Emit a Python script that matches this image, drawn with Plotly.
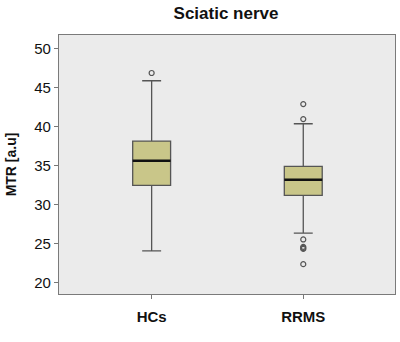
import plotly.graph_objects as go

groups = ["HCs", "RRMS"]
positions = [0, 1]
q1 = [32.46, 31.18]
median = [35.62, 33.18]
q3 = [38.14, 34.90]
lowerfence = [24.08, 26.35]
upperfence = [45.87, 40.36]
outliers = [[46.86], [42.88, 40.96, 25.54, 24.59, 24.45, 24.33, 22.37]]

box_width = 0.25
fill = "#c9c689"
edge = "#555555"

fig = go.Figure()
fig.add_trace(go.Box(
    x=positions, q1=q1, median=median, q3=q3,
    lowerfence=lowerfence, upperfence=upperfence,
    width=box_width, whiskerwidth=0.5,
    fillcolor=fill, line=dict(color=edge, width=1.3),
    boxpoints=False, showlegend=False, hoverinfo="skip",
))
for p, m in zip(positions, median):
    fig.add_trace(go.Scatter(
        x=[p - box_width / 2, p + box_width / 2], y=[m, m], mode="lines",
        line=dict(color="#111111", width=2.5), showlegend=False, hoverinfo="skip",
    ))
for p, outs in zip(positions, outliers):
    fig.add_trace(go.Scatter(
        x=[p] * len(outs), y=outs, mode="markers",
        marker=dict(symbol="circle-open", size=5, color="#555555", line=dict(width=1.2)),
        showlegend=False, hoverinfo="skip",
    ))

fig.update_layout(
    width=400, height=342,
    margin=dict(l=59, r=5, t=35, b=48),
    paper_bgcolor="white", plot_bgcolor="#ebebeb",
    font=dict(family="Liberation Sans, Arial, sans-serif", color="#111111"),
    title=dict(text="<b>Sciatic nerve</b>", x=0.565, xanchor="center", y=0.963,
               yanchor="middle", font=dict(size=17, color="#111111")),
)
fig.update_xaxes(
    range=[-0.611, 1.605], tickvals=positions,
    ticktext=["<b>" + g + "</b>" for g in groups],
    tickfont=dict(size=15, color="#111111"),
    ticks="outside", ticklen=4, tickcolor="#777777", ticklabelstandoff=5,
    showgrid=False, zeroline=False,
    showline=True, linecolor="#7a7a7a", linewidth=1.3, mirror=True,
)
fig.update_yaxes(
    range=[18.55, 51.73], tickvals=[20, 25, 30, 35, 40, 45, 50],
    tickfont=dict(size=15, color="#111111"),
    ticks="outside", ticklen=4, tickcolor="#777777",
    showgrid=False, zeroline=False,
    showline=True, linecolor="#7a7a7a", linewidth=1.3, mirror=True,
    title=dict(text="<b>MTR [a.u]</b>", font=dict(size=14, color="#111111"), standoff=14),
)

fig.write_html(
    "out.html",
    config={"displayModeBar": False},
    post_script="document.body.style.margin='0';document.body.style.overflow='hidden';",
)
